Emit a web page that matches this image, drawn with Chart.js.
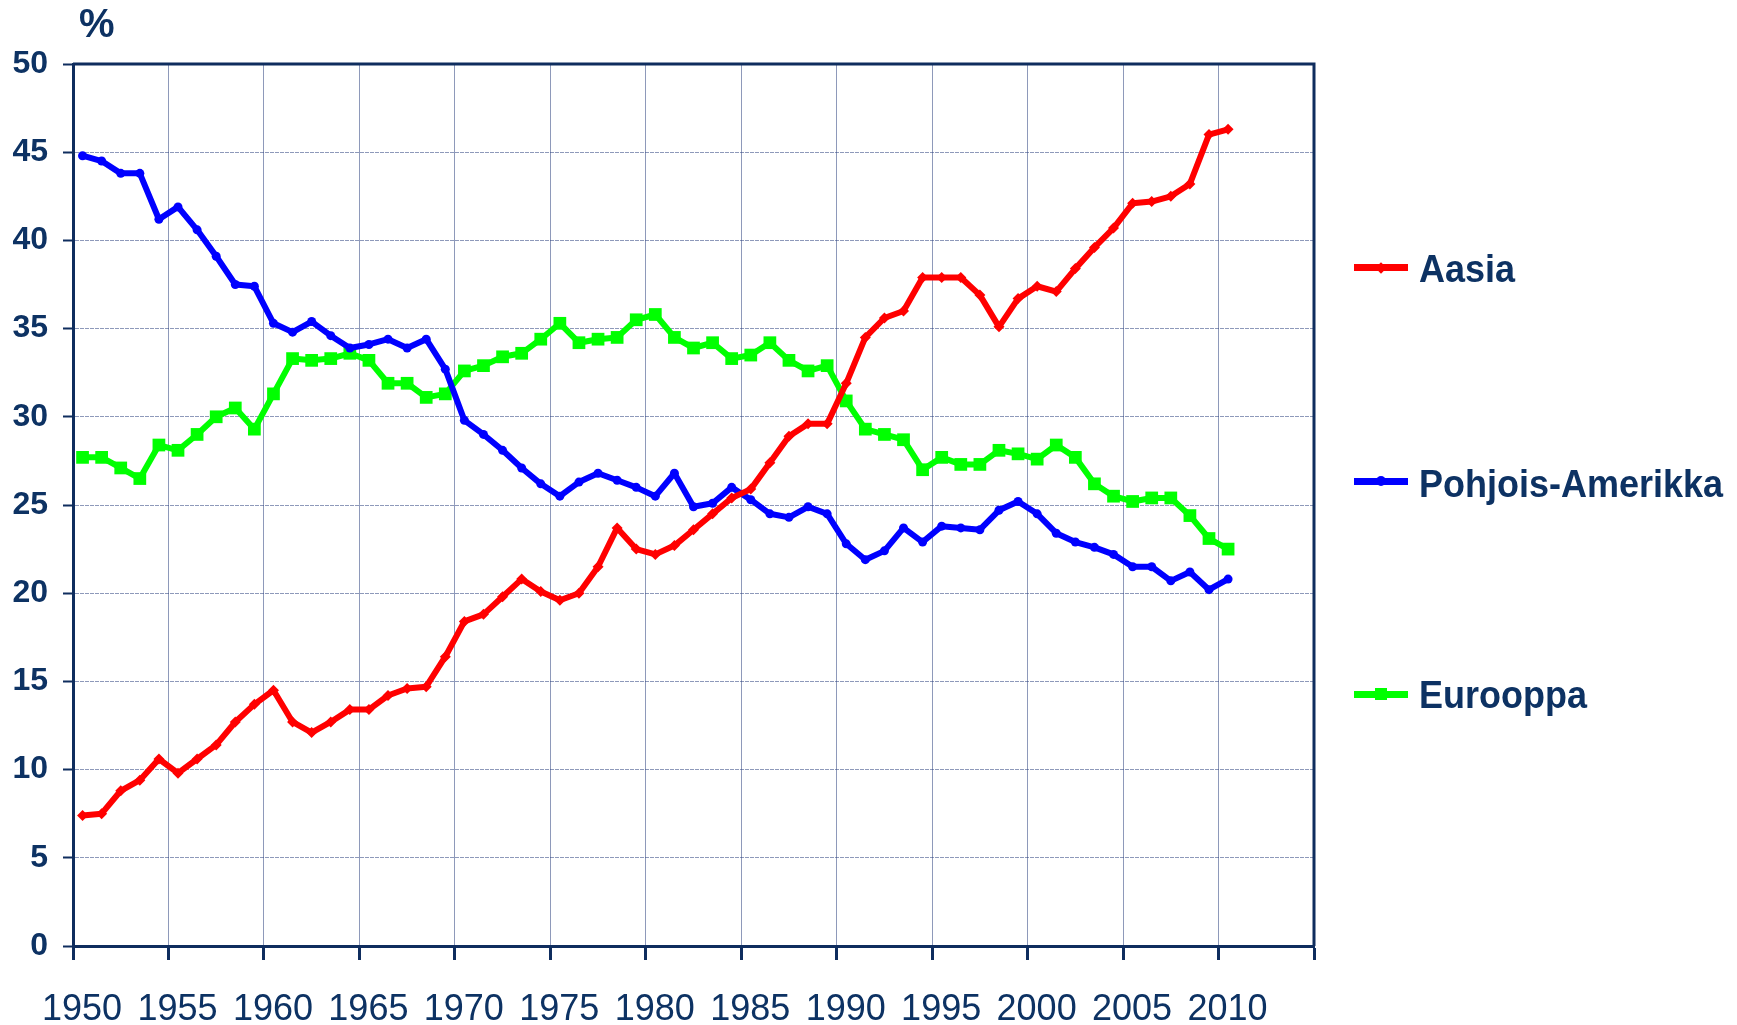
<!DOCTYPE html>
<html>
<head>
<meta charset="utf-8">
<script src="https://cdn.jsdelivr.net/npm/chart.js@4.4.0/dist/chart.umd.min.js"></script>
<style>
    body { margin: 0; background: #fff; }
    #wrap { position: relative; width: 1737px; height: 1025px; font-family: "Liberation Sans", Arial, sans-serif; color: #0d3263; }
    #chart { position: absolute; left: 0; top: 0; }
    .unit { position: absolute; left: 79px; top: 3px; font-size: 40px; font-weight: bold; line-height: 40px; }
    .leg-text { position: absolute; left: 1419px; font-size: 36px; font-weight: bold; line-height: 37px; white-space: nowrap; transform: scaleY(1.1); transform-origin: left bottom; }
    .leg-line { position: absolute; left: 1354px; width: 54px; height: 7px; }
    .leg-mark { position: absolute; }
</style>
</head>
<body>
<div id="wrap">
    <canvas id="chart" width="1737" height="1025"></canvas>
    <div class="unit">%</div>

    <div class="leg-line" style="top:264px;background:#ff0000"></div>
    <div class="leg-mark" style="left:1377px;top:264px;width:8px;height:8px;background:#ff0000;transform:rotate(45deg)"></div>
    <div class="leg-text" style="top:252px">Aasia</div>

    <div class="leg-line" style="top:478px;background:#0000ff"></div>
    <div class="leg-mark" style="left:1376px;top:476px;width:10px;height:10px;border-radius:50%;background:#0000ff"></div>
    <div class="leg-text" style="top:467px">Pohjois-Amerikka</div>

    <div class="leg-line" style="top:691px;background:#00ff00"></div>
    <div class="leg-mark" style="left:1375px;top:688px;width:12px;height:12px;background:#00ff00"></div>
    <div class="leg-text" style="top:678px">Eurooppa</div>
</div>
<script>
        // Data (share of world total, %)
        const years = [
            1950, 1951, 1952, 1953, 1954, 1955, 1956, 1957, 1958, 1959,
            1960, 1961, 1962, 1963, 1964, 1965, 1966, 1967, 1968, 1969,
            1970, 1971, 1972, 1973, 1974, 1975, 1976, 1977, 1978, 1979,
            1980, 1981, 1982, 1983, 1984, 1985, 1986, 1987, 1988, 1989,
            1990, 1991, 1992, 1993, 1994, 1995, 1996, 1997, 1998, 1999,
            2000, 2001, 2002, 2003, 2004, 2005, 2006, 2007, 2008, 2009, 2010
        ];
        const aasia = [
            7.4, 7.5, 8.8, 9.4, 10.6, 9.8, 10.6, 11.4, 12.7, 13.7,
            14.5, 12.7, 12.1, 12.7, 13.4, 13.4, 14.2, 14.6, 14.7, 16.4,
            18.4, 18.8, 19.8, 20.8, 20.1, 19.6, 20.0, 21.5, 23.7, 22.5,
            22.2, 22.7, 23.6, 24.5, 25.4, 25.9, 27.4, 28.9, 29.6, 29.6,
            31.9, 34.5, 35.6, 36.0, 37.9, 37.9, 37.9, 36.9, 35.1, 36.7,
            37.4, 37.1, 38.4, 39.6, 40.7, 42.1, 42.2, 42.5, 43.2, 46.0, 46.3
        ];
        const pohjoisAmerikka = [
            44.8, 44.5, 43.8, 43.8, 41.2, 41.9, 40.6, 39.1, 37.5, 37.4,
            35.3, 34.8, 35.4, 34.6, 33.9, 34.1, 34.4, 33.9, 34.4, 32.7,
            29.8, 29.0, 28.1, 27.1, 26.2, 25.5, 26.3, 26.8, 26.4, 26.0,
            25.5, 26.8, 24.9, 25.1, 26.0, 25.3, 24.5, 24.3, 24.9, 24.5,
            22.8, 21.9, 22.4, 23.7, 22.9, 23.8, 23.7, 23.6, 24.7, 25.2,
            24.5, 23.4, 22.9, 22.6, 22.2, 21.5, 21.5, 20.7, 21.2, 20.2, 20.8
        ];
        const eurooppa = [
            27.7, 27.7, 27.1, 26.5, 28.4, 28.1, 29.0, 30.0, 30.5, 29.3,
            31.3, 33.3, 33.2, 33.3, 33.6, 33.2, 31.9, 31.9, 31.1, 31.3,
            32.6, 32.9, 33.4, 33.6, 34.4, 35.3, 34.2, 34.4, 34.5, 35.5,
            35.8, 34.5, 33.9, 34.2, 33.3, 33.5, 34.2, 33.2, 32.6, 32.9,
            30.9, 29.3, 29.0, 28.7, 27.0, 27.7, 27.3, 27.3, 28.1, 27.9,
            27.6, 28.4, 27.7, 26.2, 25.5, 25.2, 25.4, 25.4, 24.4, 23.1, 22.5
        ];
        const xMin = 1950, xMax = 2015, xStep = 5, lastLabel = 2010;
        const yMin = 0, yMax = 50, yStep = 5;

        const navy = '#0f2d5e';
        const textColor = '#0d3263';
        const gridColor = 'rgba(50, 70, 130, 0.55)';
        const fontFamily = '"Liberation Sans", Arial, sans-serif';

        // each year is plotted in the middle of its year slot
        function toPoints(values) {
            return values.map((v, i) => ({ x: years[i] + 0.5, y: v }));
        }

        function series(label, values, color, style, radius) {
            return {
                label: label,
                data: toPoints(values),
                borderColor: color,
                backgroundColor: color,
                borderWidth: 6,
                borderJoinStyle: 'round',
                tension: 0,
                pointStyle: style,
                pointRadius: radius,
                pointBorderWidth: 0,
                pointHoverRadius: radius
            };
        }

        // top and right frame of the plot
        const frame = {
            id: 'frame',
            beforeDatasetsDraw(chart) {
                const { ctx, chartArea: a } = chart;
                ctx.save();
                ctx.strokeStyle = navy;
                ctx.lineWidth = 3;
                ctx.beginPath();
                ctx.moveTo(a.left, a.top);
                ctx.lineTo(a.right, a.top);
                ctx.lineTo(a.right, a.bottom);
                ctx.stroke();
                ctx.restore();
            }
        };

        const ctx = document.getElementById('chart').getContext('2d');
        new Chart(ctx, {
            type: 'line',
            data: {
                datasets: [
                    series('Aasia', aasia, '#ff0000', 'rectRot', 5.5),
                    series('Pohjois-Amerikka', pohjoisAmerikka, '#0000ff', 'circle', 4.5),
                    series('Eurooppa', eurooppa, '#00ff00', 'rect', 9)
                ]
            },
            options: {
                responsive: false,
                animation: false,
                layout: { padding: { left: 0, top: 64, right: 423, bottom: 0 } },
                scales: {
                    x: {
                        type: 'linear',
                        min: xMin,
                        max: xMax,
                        afterFit: (scale) => { scale.height = 79; },
                        grid: { color: gridColor, lineWidth: 1, tickLength: 14, tickColor: navy, tickWidth: 3 },
                        border: { color: navy, width: 3 },
                        ticks: {
                            stepSize: xStep,
                            maxRotation: 0,
                            autoSkip: false,
                            padding: 28,
                            labelOffset: 9,
                            color: textColor,
                            font: { family: fontFamily, size: 36 },
                            callback: (v) => (v <= lastLabel ? String(v) : '')
                        }
                    },
                    y: {
                        min: yMin,
                        max: yMax,
                        afterFit: (scale) => { scale.width = 73; },
                        grid: { color: gridColor, lineWidth: 1, tickLength: 10, tickColor: navy, tickWidth: 2 },
                        border: { color: navy, width: 3, dash: [4, 1] },
                        ticks: {
                            stepSize: yStep,
                            padding: 15,
                            color: textColor,
                            font: { family: fontFamily, size: 32, weight: 'bold' }
                        }
                    }
                },
                plugins: {
                    legend: { display: false },
                    tooltip: { enabled: false }
                }
            },
            plugins: [frame]
        });
</script>
</body>
</html>
